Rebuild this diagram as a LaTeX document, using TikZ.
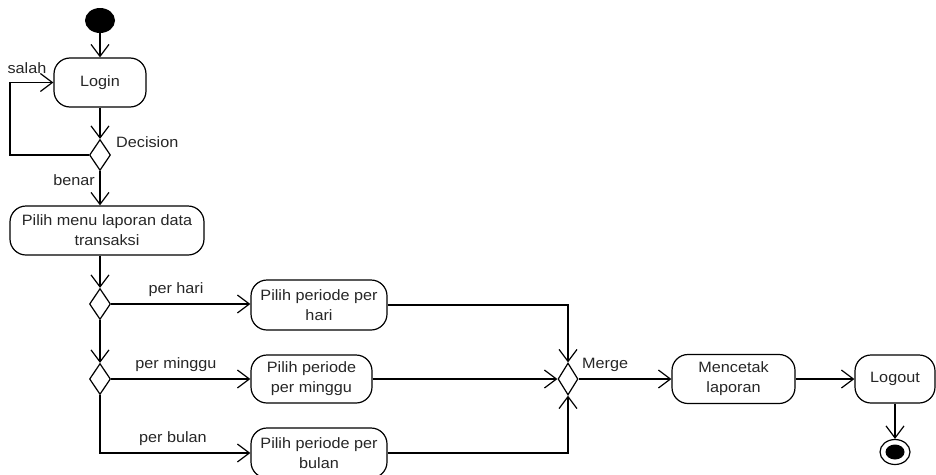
\documentclass[tikz,border=0pt]{standalone}
\usepackage{fontspec}
\setmainfont{Liberation Sans}[FakeStretch=1.08]
\usetikzlibrary{arrows.meta,shapes.geometric}
\begin{document}
\begin{tikzpicture}[x=1pt,y=-1pt,
  every node/.style={font=\fontsize{15}{20}\selectfont, text=black!85},
  act/.style={draw, line width=1.2pt, rounded corners=16pt, align=center, inner sep=0pt},
  dia/.style={draw, line width=1.2pt, diamond, inner sep=0pt, minimum width=21pt, minimum height=31pt},
  arr/.style={line width=1.2pt, -{Straight Barb[length=12pt,width=18pt,line width=1.2pt]}},
  lbl/.style={inner sep=1pt}]
\useasboundingbox (0,0) rectangle (936,474);
\begin{scope}
\clip (0,0) rectangle (936,474);
% nodes
\node[ellipse, fill=black, minimum width=30pt, minimum height=25pt, inner sep=0pt] (start) at (100,20.5) {};
\node[act, minimum width=92pt, minimum height=49pt] (login) at (100,82.5) {Login};
\node[dia] (dec) at (100,155) {};
\node[act, minimum width=194pt, minimum height=49pt] (menu) at (107,230.5) {Pilih menu laporan data\\transaksi};
\node[dia] (dec2) at (100,304) {};
\node[dia] (dec3) at (100,379) {};
\node[act, minimum width=136pt, minimum height=50pt] (hari) at (319,305) {Pilih periode per\\hari};
\node[act, minimum width=121pt, minimum height=48pt] (minggu) at (311.5,379) {Pilih periode\\per minggu};
\node[act, minimum width=136pt, minimum height=50pt] (bulan) at (319,453) {Pilih periode per\\bulan};
\node[dia, minimum width=20pt, minimum height=32pt] (merge) at (568,379) {};
\node[act, minimum width=123pt, minimum height=49pt] (cetak) at (733.5,379) {Mencetak\\laporan};
\node[act, minimum width=80pt, minimum height=48pt] (logout) at (895,379) {Logout};
\node[ellipse, draw, line width=1.2pt, minimum width=30pt, minimum height=25pt, inner sep=0pt] (endc) at (895,452) {};
\node[ellipse, fill=black, minimum width=19pt, minimum height=15pt, inner sep=0pt] (endi) at (endc.center) {};
\coordinate (loopc) at (10,155);
% connectors
\draw[arr] (start) -- (login);
\draw[arr] (login.south) -- (dec.north);
\draw[arr] (dec.west) -- (loopc) |- (login.west);
\draw[arr] (dec.south) -- (dec.south |- menu.north);
\draw[arr] (menu.south -| dec2.north) -- (dec2.north);
\draw[arr] (dec2.east) -- (dec2.east -| hari.west);
\draw[arr] (dec2.south) -- (dec3.north);
\draw[arr] (dec3.east) -- (dec3.east -| minggu.west);
\draw[arr] (dec3.south) |- (bulan.west);
\draw[arr] (hari.east) -| (merge.north);
\draw[arr] (minggu.east) -- (merge.west);
\draw[arr] (bulan.east) -| (merge.south);
\draw[arr] (merge.east) -- (merge.east -| cetak.west);
\draw[arr] (cetak.east) -- (cetak.east -| logout.west);
\draw[arr] (logout.south) -- (endc.north);
% labels
\node[lbl] (lsalah) at (27,68) {salah};
\node[lbl, anchor=west] (ldec) at (115,142) {Decision};
\node[lbl] (lbenar) at (74,180) {benar};
\node[lbl] (lhari) at (176,290) {per hari};
\node[lbl] (lminggu) at (176,365) {per minggu};
\node[lbl] (lbulan) at (173,439) {per bulan};
\node[lbl, anchor=west] (lmerge) at (581,365) {Merge};
\end{scope}
\end{tikzpicture}
\end{document}
